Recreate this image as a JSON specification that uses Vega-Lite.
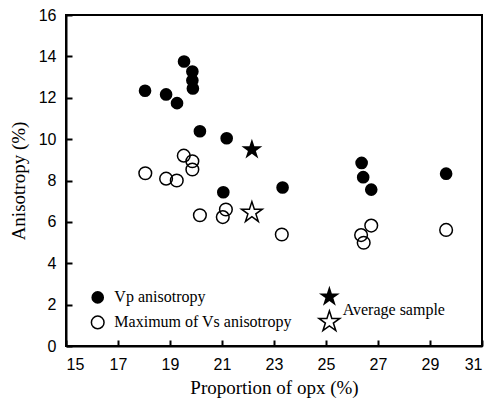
{
  "$schema": "https://vega.github.io/schema/vega-lite/v6.json",
  "width": 416,
  "height": 331,
  "autosize": {"type": "none"},
  "padding": {"left": 66, "top": 15, "right": 10, "bottom": 57},
  "background": "white",
  "config": {
    "view": {"stroke": "black", "strokeWidth": 2},
    "axis": {
      "grid": false,
      "domainColor": "black",
      "domainWidth": 2,
      "tickColor": "black",
      "tickWidth": 2,
      "labelFont": "Liberation Sans",
      "labelFontSize": 16,
      "labelColor": "black",
      "titleFont": "Liberation Serif",
      "titleFontSize": 19,
      "titleFontWeight": "normal",
      "titleColor": "black"
    }
  },
  "datasets": {
    "obs": [
      {"opx": 18.04, "aniso": 12.34, "series": "Vp"},
      {"opx": 18.85, "aniso": 12.16, "series": "Vp"},
      {"opx": 19.27, "aniso": 11.74, "series": "Vp"},
      {"opx": 19.54, "aniso": 13.75, "series": "Vp"},
      {"opx": 19.86, "aniso": 13.27, "series": "Vp"},
      {"opx": 19.86, "aniso": 12.84, "series": "Vp"},
      {"opx": 19.88, "aniso": 12.45, "series": "Vp"},
      {"opx": 20.15, "aniso": 10.38, "series": "Vp"},
      {"opx": 21.18, "aniso": 10.04, "series": "Vp"},
      {"opx": 21.05, "aniso": 7.43, "series": "Vp"},
      {"opx": 23.33, "aniso": 7.66, "series": "Vp"},
      {"opx": 26.37, "aniso": 8.85, "series": "Vp"},
      {"opx": 26.43, "aniso": 8.16, "series": "Vp"},
      {"opx": 26.74, "aniso": 7.56, "series": "Vp"},
      {"opx": 29.62, "aniso": 8.33, "series": "Vp"},
      {"opx": 18.05, "aniso": 8.35, "series": "Vs"},
      {"opx": 18.85, "aniso": 8.09, "series": "Vs"},
      {"opx": 19.26, "aniso": 8.0, "series": "Vs"},
      {"opx": 19.53, "aniso": 9.2, "series": "Vs"},
      {"opx": 19.86, "aniso": 8.93, "series": "Vs"},
      {"opx": 19.86, "aniso": 8.53, "series": "Vs"},
      {"opx": 20.15, "aniso": 6.32, "series": "Vs"},
      {"opx": 21.03, "aniso": 6.23, "series": "Vs"},
      {"opx": 21.15, "aniso": 6.6, "series": "Vs"},
      {"opx": 23.3, "aniso": 5.39, "series": "Vs"},
      {"opx": 26.35, "aniso": 5.36, "series": "Vs"},
      {"opx": 26.45, "aniso": 4.99, "series": "Vs"},
      {"opx": 26.74, "aniso": 5.82, "series": "Vs"},
      {"opx": 29.62, "aniso": 5.61, "series": "Vs"},
      {"opx": 22.15, "aniso": 9.49, "series": "VpAvg"},
      {"opx": 22.15, "aniso": 6.45, "series": "VsAvg"}
    ],
    "keymarks": [
      {"opx": 16.22, "aniso": 2.35, "series": "Vp"},
      {"opx": 16.22, "aniso": 1.14, "series": "Vs"},
      {"opx": 25.13, "aniso": 2.38, "series": "VpAvg"},
      {"opx": 25.13, "aniso": 1.17, "series": "VsAvg"}
    ],
    "keytext": [
      {"lx": 16.86, "ly": 2.35, "label": "Vp anisotropy"},
      {"lx": 16.86, "ly": 1.14, "label": "Maximum of Vs anisotropy"},
      {"lx": 25.64, "ly": 1.74, "label": "Average sample"}
    ]
  },
  "resolve": {"axis": {"x": "independent", "y": "independent"}},
  "layer": [
    {
      "data": {"name": "obs"},
      "transform": [{"filter": "datum.series === 'Vp'"}],
      "mark": {"type": "point", "shape": "circle", "filled": true, "color": "black", "size": 160, "opacity": 1},
      "encoding": {
        "x": {"field": "opx", "type": "quantitative", "scale": {"domain": [15, 31], "nice": false},
              "axis": {"orient": "bottom", "values": [15, 17, 19, 21, 23, 25, 27, 29, 31], "ticks": false, "title": "Proportion of opx (%)", "labelPadding": 10, "titlePadding": 6}},
        "y": {"field": "aniso", "type": "quantitative", "scale": {"domain": [0, 16], "nice": false},
              "axis": {"orient": "left", "values": [0, 2, 4, 6, 8, 10, 12, 14, 16], "ticks": false, "title": "Anisotropy (%)", "labelPadding": 10, "titlePadding": 10}}
      }
    },
    {
      "data": {"name": "obs"},
      "transform": [{"filter": "datum.series === 'Vs'"}],
      "mark": {"type": "point", "shape": "circle", "filled": false, "stroke": "black", "strokeWidth": 1.5, "size": 160, "opacity": 1},
      "encoding": {
        "x": {"field": "opx", "type": "quantitative",
              "axis": {"orient": "bottom", "values": [15, 17, 19, 21, 23, 25, 27, 29, 31], "labels": false, "title": null, "domain": false, "tickSize": -6}},
        "y": {"field": "aniso", "type": "quantitative",
              "axis": {"orient": "left", "values": [0, 2, 4, 6, 8, 10, 12, 14, 16], "labels": false, "title": null, "domain": false, "tickSize": -6}}
      }
    },
    {
      "data": {"name": "obs"},
      "transform": [{"filter": "datum.series === 'VpAvg'"}],
      "mark": {"type": "point", "shape": "M0,-1L0.2245,-0.309L0.951,-0.309L0.363,0.118L0.588,0.809L0,0.382L-0.588,0.809L-0.363,0.118L-0.951,-0.309L-0.2245,-0.309Z", "filled": true, "color": "black", "size": 480, "opacity": 1},
      "encoding": {
        "x": {"field": "opx", "type": "quantitative", "axis": null},
        "y": {"field": "aniso", "type": "quantitative", "axis": null}
      }
    },
    {
      "data": {"name": "obs"},
      "transform": [{"filter": "datum.series === 'VsAvg'"}],
      "mark": {"type": "point", "shape": "M0,-1L0.2245,-0.309L0.951,-0.309L0.363,0.118L0.588,0.809L0,0.382L-0.588,0.809L-0.363,0.118L-0.951,-0.309L-0.2245,-0.309Z", "filled": false, "stroke": "black", "strokeWidth": 1.5, "size": 480, "opacity": 1},
      "encoding": {
        "x": {"field": "opx", "type": "quantitative", "axis": null},
        "y": {"field": "aniso", "type": "quantitative", "axis": null}
      }
    },
    {
      "data": {"name": "keymarks"},
      "transform": [{"filter": "datum.series === 'Vp'"}],
      "mark": {"type": "point", "shape": "circle", "filled": true, "color": "black", "size": 160, "opacity": 1},
      "encoding": {
        "x": {"field": "opx", "type": "quantitative", "axis": null},
        "y": {"field": "aniso", "type": "quantitative", "axis": null}
      }
    },
    {
      "data": {"name": "keymarks"},
      "transform": [{"filter": "datum.series === 'Vs'"}],
      "mark": {"type": "point", "shape": "circle", "filled": false, "stroke": "black", "strokeWidth": 1.5, "size": 160, "opacity": 1},
      "encoding": {
        "x": {"field": "opx", "type": "quantitative", "axis": null},
        "y": {"field": "aniso", "type": "quantitative", "axis": null}
      }
    },
    {
      "data": {"name": "keymarks"},
      "transform": [{"filter": "datum.series === 'VpAvg'"}],
      "mark": {"type": "point", "shape": "M0,-1L0.2245,-0.309L0.951,-0.309L0.363,0.118L0.588,0.809L0,0.382L-0.588,0.809L-0.363,0.118L-0.951,-0.309L-0.2245,-0.309Z", "filled": true, "color": "black", "size": 480, "opacity": 1},
      "encoding": {
        "x": {"field": "opx", "type": "quantitative", "axis": null},
        "y": {"field": "aniso", "type": "quantitative", "axis": null}
      }
    },
    {
      "data": {"name": "keymarks"},
      "transform": [{"filter": "datum.series === 'VsAvg'"}],
      "mark": {"type": "point", "shape": "M0,-1L0.2245,-0.309L0.951,-0.309L0.363,0.118L0.588,0.809L0,0.382L-0.588,0.809L-0.363,0.118L-0.951,-0.309L-0.2245,-0.309Z", "filled": false, "stroke": "black", "strokeWidth": 1.5, "size": 480, "opacity": 1},
      "encoding": {
        "x": {"field": "opx", "type": "quantitative", "axis": null},
        "y": {"field": "aniso", "type": "quantitative", "axis": null}
      }
    },
    {
      "data": {"name": "keytext"},
      "mark": {"type": "text", "align": "left", "baseline": "middle", "font": "Liberation Serif", "fontSize": 16, "color": "black"},
      "encoding": {
        "x": {"field": "lx", "type": "quantitative", "axis": null},
        "y": {"field": "ly", "type": "quantitative", "axis": null},
        "text": {"field": "label"}
      }
    }
  ]
}
